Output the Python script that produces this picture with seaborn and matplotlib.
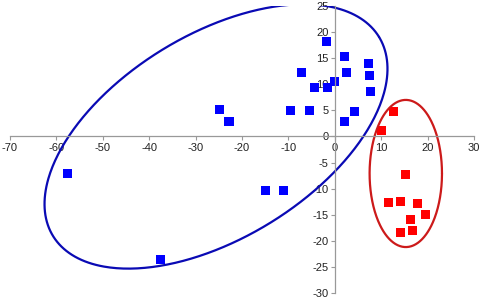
import numpy as np
import pandas as pd
import matplotlib
matplotlib.use("Agg")
import matplotlib.pyplot as plt
import seaborn as sns

# Data
blue_x = [-24.8, -22.8, -1.7, 2.0, -7.1, 2.6, 7.3, 7.4, 0.0, -4.3, -1.5, 7.8,
          -9.5, -5.5, 4.3, 2.0, -57.7, -37.6, -15.0, -11.0]
blue_y = [5.2, 2.9, 18.1, 15.4, 12.3, 12.3, 13.9, 11.6, 10.6, 9.4, 9.4, 8.6,
          5.0, 5.0, 4.8, 2.9, -7.1, -23.5, -10.4, -10.4]
red_x = [12.7, 10.1, 15.3, 11.6, 14.2, 17.8, 19.6, 16.3, 14.2, 16.8]
red_y = [4.7, 1.2, -7.3, -12.6, -12.4, -12.8, -15.0, -16.0, -18.5, -18.1]

x_ticks = list(range(-70, 31, 10))
y_ticks = list(range(-30, 26, 5))

df = pd.DataFrame({
    "x": blue_x + red_x,
    "y": blue_y + red_y,
    "group": ["A"] * len(blue_x) + ["B"] * len(red_x),
})

sns.set_style("white")
plt.rcParams["font.family"] = ["Liberation Sans", "DejaVu Sans"]
plt.rcParams["axes.unicode_minus"] = False

fig = plt.figure(figsize=(4.8, 2.99), dpi=100)
ax = fig.add_axes([0.0208, 0.0201, 0.9667, 0.9599])

sns.scatterplot(data=df, x="x", y="y", hue="group", marker="s", s=42,
                palette={"A": "#0000ff", "B": "#ff0000"}, linewidth=0,
                legend=False, ax=ax)

# ellipses (blue one is tilted)
t = np.linspace(0, 2 * np.pi, 400)
th = np.deg2rad(31.4)
a, b = 191 / 4.64, 102 / 4.64
ky = 4.64 / 5.22
ex = -25.6 + a * np.cos(th) * np.cos(t) - b * np.sin(th) * np.sin(t)
ey = 0.0 + ky * (a * np.sin(th) * np.cos(t) + b * np.cos(th) * np.sin(t))
ax.plot(ex, ey, color="#0a0ab4", lw=1.6)
ax.plot(15.3 + 7.8 * np.cos(t), -7.1 + 14.1 * np.sin(t), color="#cc1a1a", lw=1.6)

ax.set_xlim(-70, 30)
ax.set_ylim(-30, 25)
ax.set_xticks(x_ticks)
ax.set_yticks(y_ticks)
ax.set_xlabel("")
ax.set_ylabel("")

ax.spines["left"].set_position(("data", 0))
ax.spines["bottom"].set_position(("data", 0))
ax.spines["top"].set_visible(False)
ax.spines["right"].set_visible(False)
for s in ["left", "bottom"]:
    ax.spines[s].set_color("#999999")
    ax.spines[s].set_linewidth(0.9)
ax.tick_params(axis="both", direction="out", length=3, width=0.8,
               bottom=True, left=True,
               color="#999999", labelsize=8, labelcolor="#222222", pad=1.5)

fig.savefig("out.png", dpi=100)
